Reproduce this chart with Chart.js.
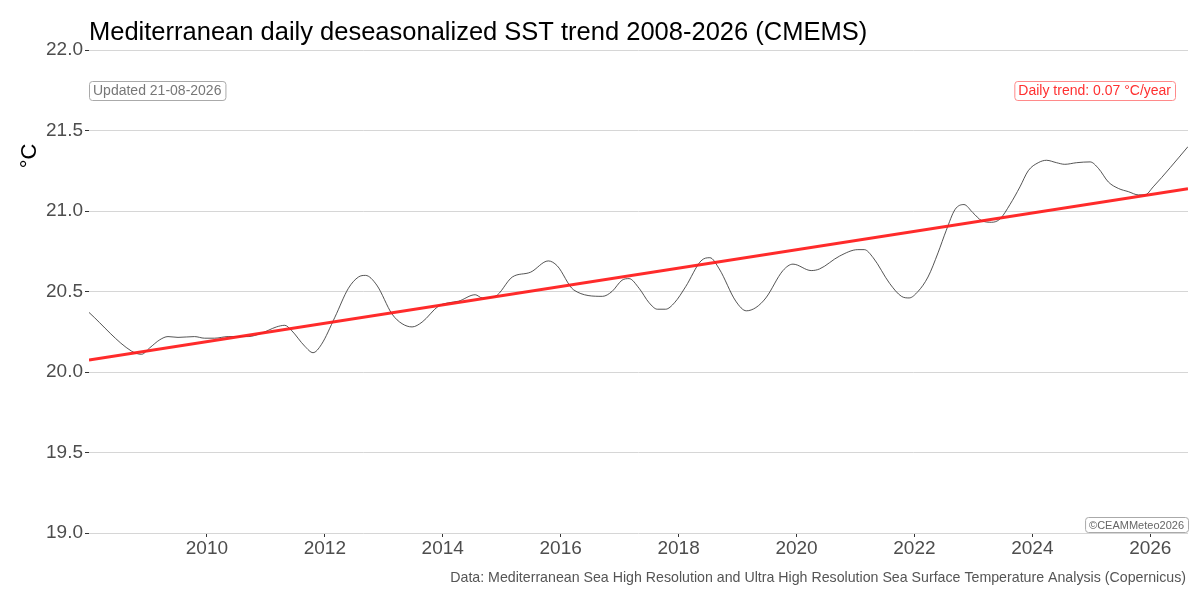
<!DOCTYPE html>
<html>
<head>
<meta charset="utf-8">
<title>Mediterranean daily deseasonalized SST trend</title>
<script src="https://cdn.jsdelivr.net/npm/chart.js@4.4.1/dist/chart.umd.min.js"></script>
<style>
  html, body { margin: 0; padding: 0; background: #fff; }
  #wrap { width: 1200px; height: 600px; position: relative; }
</style>
</head>
<body>
<div id="wrap"><canvas id="sstChart" width="1200" height="600"></canvas></div>
<script>
// Deseasonalized SST
const sstYears = [
  2008.00, 2008.72, 2008.89, 2009.03, 2009.20, 2009.34, 2009.51, 2009.79, 2009.96, 2010.13,
  2010.36, 2010.70, 2010.92, 2011.18, 2011.32, 2011.43, 2011.66, 2011.80, 2011.94, 2012.17,
  2012.40, 2012.57, 2012.69, 2012.88, 2013.14, 2013.31, 2013.48, 2013.65, 2013.93, 2014.10,
  2014.27, 2014.55, 2014.67, 2014.89, 2015.18, 2015.49, 2015.79, 2015.94, 2016.22, 2016.71,
  2016.87, 2017.04, 2017.16, 2017.33, 2017.50, 2017.64, 2017.78, 2017.93, 2018.12, 2018.38,
  2018.53, 2018.69, 2018.97, 2019.15, 2019.31, 2019.48, 2019.77, 2019.94, 2020.25, 2020.39,
  2020.73, 2021.04, 2021.15, 2021.30, 2021.58, 2021.78, 2021.91, 2022.06, 2022.23, 2022.40,
  2022.54, 2022.69, 2022.84, 2022.99, 2023.14, 2023.31, 2023.45, 2023.62, 2023.79, 2023.93,
  2024.10, 2024.24, 2024.41, 2024.55, 2024.75, 2024.98, 2025.12, 2025.29, 2025.46, 2025.63,
  2025.80, 2025.91, 2026.05, 2026.34, 2026.64
];
const sstValues = [
  20.37, 20.13, 20.11, 20.15, 20.20, 20.22, 20.215, 20.22, 20.21, 20.21,
  20.22, 20.22, 20.24, 20.28, 20.29, 20.26, 20.16, 20.12, 20.17, 20.34,
  20.52, 20.59, 20.60, 20.54, 20.36, 20.30, 20.28, 20.31, 20.41, 20.43,
  20.44, 20.48, 20.46, 20.47, 20.59, 20.62, 20.69, 20.66, 20.51, 20.47,
  20.50, 20.57, 20.58, 20.52, 20.43, 20.39, 20.39, 20.43, 20.53, 20.69,
  20.71, 20.64, 20.44, 20.38, 20.40, 20.46, 20.63, 20.67, 20.63, 20.64,
  20.72, 20.76, 20.76, 20.71, 20.55, 20.47, 20.46, 20.50, 20.59, 20.74,
  20.88, 21.01, 21.04, 20.99, 20.94, 20.93, 20.95, 21.04, 21.15, 21.25,
  21.30, 21.315, 21.30, 21.29, 21.30, 21.305, 21.265, 21.18, 21.14, 21.12,
  21.10, 21.10, 21.15, 21.27, 21.40
];

// Linear trend line end points
const trendYears = [2008.00, 2026.64];
const trendValues = [20.074, 21.138];

const xTicks = [2010, 2012, 2014, 2016, 2018, 2020, 2022, 2024, 2026];
const yTicks = [19.0, 19.5, 20.0, 20.5, 21.0, 21.5, 22.0];

const titleText = 'Mediterranean daily deseasonalized SST trend 2008-2026 (CMEMS)';
const captionText = 'Data: Mediterranean Sea High Resolution and Ultra High Resolution Sea Surface Temperature Analysis (Copernicus)';
const updatedText = 'Updated 21-08-2026';
const trendText = 'Daily trend: 0.07 \u00B0C/year';
const creditText = '\u00A9CEAMMeteo2026';

const FONT = '"Liberation Sans", Arial, Helvetica, sans-serif';

function toXY(xs, ys) {
  return xs.map((x, i) => ({ x: x, y: ys[i] }));
}

function boxLabel(ctx, text, x, y, opts) {
  ctx.save();
  ctx.font = opts.font;
  const w = ctx.measureText(text).width + 8;
  const h = opts.h;
  const left = opts.align === 'right' ? x - w : x;
  ctx.beginPath();
  ctx.roundRect(left + 0.5, y + 0.5, w, h, 3);
  ctx.fillStyle = '#fff';
  ctx.fill();
  ctx.strokeStyle = opts.border;
  ctx.lineWidth = 1;
  ctx.stroke();
  ctx.fillStyle = opts.color;
  ctx.textBaseline = 'middle';
  ctx.textAlign = 'left';
  ctx.fillText(text, left + 4, y + h / 2 + 1);
  ctx.restore();
}

// titles, caption and annotation boxes
const decorations = {
  id: 'decorations',
  afterDraw(chart) {
    const ctx = chart.ctx;
    const area = chart.chartArea;
    ctx.save();
    ctx.fillStyle = '#000';
    ctx.font = '25.5px ' + FONT;
    ctx.textBaseline = 'alphabetic';
    ctx.fillText(titleText, area.left, 40);

    ctx.translate(36, 156);
    ctx.rotate(-Math.PI / 2);
    ctx.font = '22px ' + FONT;
    ctx.textAlign = 'center';
    ctx.fillText('\u00B0C', 0, 0);
    ctx.restore();

    ctx.save();
    ctx.fillStyle = '#555';
    ctx.font = '14.2px ' + FONT;
    ctx.textAlign = 'right';
    ctx.fillText(captionText, area.right - 2, 582);
    ctx.restore();

    boxLabel(ctx, updatedText, area.left, 81, { font: '14px ' + FONT, h: 19, color: '#777', border: '#aaa' });
    boxLabel(ctx, trendText, area.right - 13, 81, { font: '14px ' + FONT, h: 19, color: '#ff3030', border: '#ff8a8a', align: 'right' });
    boxLabel(ctx, creditText, area.right, area.bottom - 16, { font: '11px ' + FONT, h: 15, color: '#666', border: '#aaa', align: 'right' });
  }
};

new Chart(document.getElementById('sstChart'), {
  type: 'line',
  data: {
    datasets: [
      {
        label: 'Trend',
        data: toXY(trendYears, trendValues),
        borderColor: 'rgba(255, 25, 25, 0.92)',
        borderWidth: 3,
        pointRadius: 0,
        order: 1
      },
      {
        label: 'SST',
        data: toXY(sstYears, sstValues),
        borderColor: '#2a2a2a',
        borderWidth: 0.8,
        pointRadius: 0,
        cubicInterpolationMode: 'monotone',
        order: 2
      }
    ]
  },
  options: {
    responsive: false,
    animation: false,
    layout: { padding: { top: 50, right: 12, left: 0, bottom: 0 } },
    plugins: {
      legend: { display: false },
      tooltip: { enabled: false }
    },
    scales: {
      x: {
        type: 'linear',
        min: trendYears[0],
        max: trendYears[1],
        afterBuildTicks: scale => { scale.ticks = xTicks.map(v => ({ value: v })); },
        afterFit: scale => { scale.height = 67; },
        grid: { drawOnChartArea: false, drawTicks: true, tickLength: 4, tickColor: '#333' },
        border: { display: false },
        ticks: {
          color: '#4d4d4d',
          font: { family: FONT, size: 19 },
          padding: 0,
          maxRotation: 0,
          callback: v => String(v)
        }
      },
      y: {
        min: 19,
        max: 22,
        afterBuildTicks: scale => { scale.ticks = yTicks.map(v => ({ value: v })); },
        afterFit: scale => { scale.width = 89; },
        grid: { color: '#d6d6d6', lineWidth: 1, drawTicks: true, tickLength: 4, tickColor: '#333' },
        border: { display: false },
        ticks: {
          color: '#4d4d4d',
          font: { family: FONT, size: 19 },
          padding: 2,
          callback: v => v.toFixed(1)
        }
      }
    }
  },
  plugins: [decorations]
});
</script>
</body>
</html>
